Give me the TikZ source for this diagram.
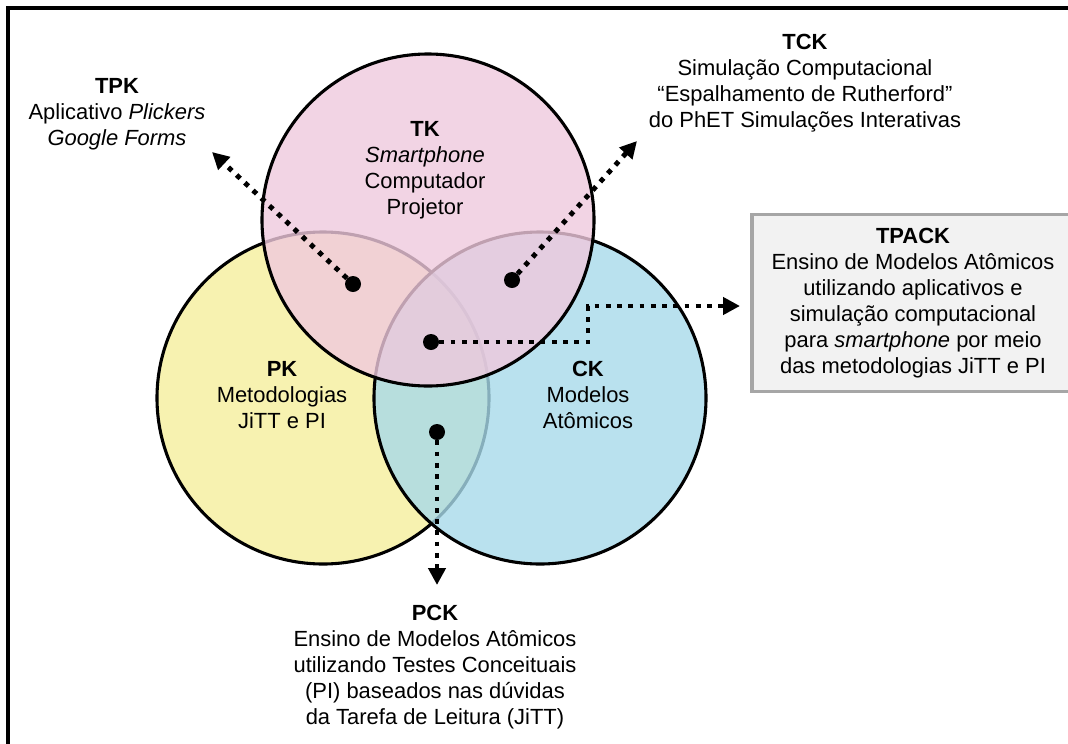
\documentclass[tikz,border=0pt]{standalone}
\usepackage{fontspec}
\setmainfont{Liberation Sans}
\usetikzlibrary{arrows.meta}
\definecolor{pkyellow}{RGB}{245,239,156}
\definecolor{ckblue}{RGB}{168,218,234}
\definecolor{tkpink}{RGB}{239,201,221}
\definecolor{boxgray}{RGB}{166,166,166}
\definecolor{boxfill}{RGB}{242,242,242}
\begin{document}
\begin{tikzpicture}[x=0.025cm, y=-0.025cm,
  venn/.style={draw, line width=2.2pt, fill opacity=.8},
  spot/.style={circle, fill, inner sep=0pt, minimum size=0.4cm},
  link/.style={line width=3.5pt, dash pattern=on 3.5pt off 4.5pt,
    -{Triangle[length=12pt,width=12pt]}},
  txt/.style={align=center, font=\fontsize{15.6}{18.5}\selectfont}]
  \clip (0,0) rectangle (1068,744);
  \draw [line width=2.5pt] (8,760) -- (8,8) -- (1080,8);
  \path [venn, fill=pkyellow] (323,398) circle [radius=166];
  \path [venn, fill=ckblue] (540,398) circle [radius=166];
  \path [venn, fill=tkpink] (428,220) circle [radius=166];
  \node [txt] (tpk) at (117,114) {\textbf{TPK}\\Aplicativo \textit{Plickers}\\\textit{Google Forms}};
  \node [txt] (tk) at (425,170) {\textbf{TK}\\\textit{Smartphone}\\Computador\\Projetor};
  \node [txt] (tck) at (805,83) {\textbf{TCK}\\Simulação Computacional\\“Espalhamento de Rutherford”\\do PhET Simulações Interativas};
  \node [txt] (pk) at (282,395) {\textbf{PK}\\Metodologias\\JiTT e PI};
  \node [txt] (ck) at (588,395) {\textbf{CK}\\Modelos\\Atômicos};
  \node [txt] (pck) at (435,667) {\textbf{PCK}\\Ensino de Modelos Atômicos\\utilizando Testes Conceituais\\(PI) baseados nas dúvidas\\da Tarefa de Leitura (JiTT)};
  \node [txt, draw=boxgray, fill=boxfill, line width=2.2pt, minimum width=8.05cm,
    minimum height=4.425cm] (tpack) at (913,303) {\textbf{TPACK}\\Ensino de Modelos Atômicos\\utilizando aplicativos e\\simulação computacional\\para \textit{smartphone} por meio\\das metodologias JiTT e PI};
  \node [spot] (tpkdot) at (353,284) {};
  \node [spot] (tckdot) at (512,280) {};
  \node [spot] (tpackdot) at (431,342) {};
  \node [spot] (pckdot) at (437,432) {};
  \coordinate (tpkend) at (212,152);
  \coordinate (tckend) at (637,141);
  \coordinate (tpackstep) at (588,306);
  \coordinate (tpackend) at (740,306);
  \coordinate (pckend) at (437,585);
  \draw [link] (tpkdot) -- (tpkend);
  \draw [link] (tckdot) -- (tckend);
  \draw [link] (tpackdot) -| (tpackstep) -- (tpackend);
  \draw [link] (pckdot) -- (pckend);
\end{tikzpicture}
\end{document}
